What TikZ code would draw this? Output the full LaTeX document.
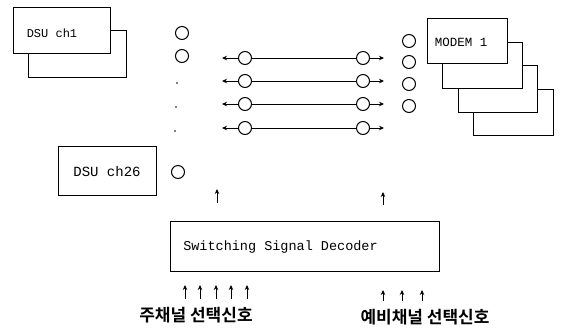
\documentclass[tikz,border=0pt]{standalone}
\usepackage{fontspec}
\newfontfamily\kr{Noto Sans CJK KR}[BoldFont={Noto Sans CJK KR Bold}]
\newfontfamily\mono{Liberation Mono}
\usetikzlibrary{arrows.meta}
\begin{document}
\begin{tikzpicture}[x=1pt,y=-1pt, line width=1pt,
  box/.style={draw, fill=white, inner sep=0pt},
  port/.style={draw, circle, minimum size=13pt, inner sep=0pt},
  dotp/.style={fill, circle, minimum size=1.8pt, inner sep=0pt},
  lbl/.style={font=\mono\fontsize{13}{15}\selectfont, inner sep=0pt},
  krl/.style={font=\kr\bfseries\fontsize{17}{19}\selectfont, inner sep=0pt},
  sig/.style={-{Stealth[length=5pt,width=4.5pt]}},
]
\useasboundingbox (0,0) rectangle (561,330);

% DSU ch1 stack
\node[box, minimum width=98pt, minimum height=47pt] (dsuB) at (77,53.5) {};
\node[box, minimum width=97pt, minimum height=46pt] (dsuA) at (61.5,30) {};
\node[lbl, font=\mono\fontsize{12}{14}\selectfont] (dsuAt) at (52,33) {DSU ch1};

% MODEM stack
\node[box, minimum width=80pt, minimum height=46pt] (m4) at (513,112) {};
\node[box, minimum width=79pt, minimum height=47pt] (m3) at (497.5,88.5) {};
\node[box, minimum width=80pt, minimum height=46pt] (m2) at (482,65) {};
\node[box, minimum width=80pt, minimum height=45pt] (m1) at (467,40.5) {};
\node[lbl, font=\mono\fontsize{12.5}{14}\selectfont] (m1t) at (461,42) {MODEM 1};

% DSU ch26
\node[box, minimum width=98pt, minimum height=49pt] (dsu26) at (107,170.5) {};
\node[lbl, font=\mono\fontsize{14}{16}\selectfont] (dsu26t) at (107,171) {DSU ch26};

% Decoder
\node[box, minimum width=269pt, minimum height=50pt] (dec) at (304.5,246) {};
\node[lbl, font=\mono\fontsize{13.5}{16}\selectfont] (dect) at (280.5,247) {Switching Signal Decoder};

% left column ports
\node[port] (L1) at (182,33) {};
\node[port] (L2) at (182,56) {};
\node[dotp] (d1) at (177,83) {};
\node[dotp] (d2) at (176,107) {};
\node[dotp] (d3) at (175,131) {};
\node[port] (L26) at (178,172) {};

% right column ports
\node[port] (R1) at (409,41) {};
\node[port] (R2) at (409,62) {};
\node[port] (R3) at (409,84) {};
\node[port] (R4) at (409,106) {};

% switch rows
\foreach \i/\y in {1/58,2/81,3/104,4/128}{
  \node[port] (a\i) at (245,\y) {};
  \node[port] (b\i) at (363,\y) {};
  \coordinate (ta\i) at (222,\y);
  \coordinate (tb\i) at (384,\y);
  \draw (a\i) -- (b\i.west);
  \draw[sig] (a\i) -- (ta\i);
  \draw[sig] (b\i) -- (tb\i);
}

% control arrows up
\coordinate (u1s) at (217,203);
\coordinate (u1e) at (217,189);
\coordinate (u2s) at (383,205);
\coordinate (u2e) at (383,192);
\draw[sig] (u1s) -- (u1e);
\draw[sig] (u2s) -- (u2e);

% input arrows
\foreach \x [count=\k] in {185,200,216,231,247}{
  \coordinate (ps\k) at (\x,299);
  \coordinate (pe\k) at (\x,285);
  \draw[sig] (ps\k) -- (pe\k);
}
\foreach \x [count=\k] in {383,402,422}{
  \coordinate (qs\k) at (\x,301);
  \coordinate (qe\k) at (\x,290);
  \draw[sig] (qs\k) -- (qe\k);
}

\node[krl] (mainlbl) at (196,315) {주채널 선택신호};
\node[krl] (sparelbl) at (425,317) {예비채널 선택신호};
\end{tikzpicture}
\end{document}
